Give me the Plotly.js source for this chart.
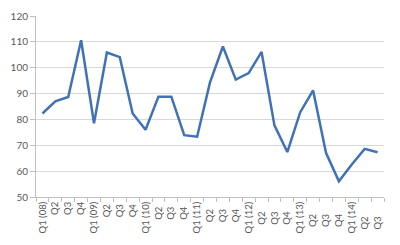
<!DOCTYPE html>
<html>
<head>
<meta charset="utf-8">
<script src="https://cdn.plot.ly/plotly-3.0.1.min.js"></script>
<style>html,body{margin:0;padding:0;background:#fff;}#chart{width:400px;height:245px;}</style>
</head>
<body>
<div id="chart"></div>
<script>
const quarters = ["Q1 (08)","Q2","Q3","Q4","Q1 (09)","Q2 ","Q3 ","Q4 ","Q1 (10)","Q2  ","Q3  ","Q4  ","Q1 (11)","Q2   ","Q3   ","Q4   ","Q1 (12)","Q2    ","Q3    ","Q4    ","Q1 (13)","Q2     ","Q3     ","Q4     ","Q1 (14)","Q2      ","Q3      "];
const values = [82.3, 87.0, 88.7, 110.6, 78.5, 105.9, 104.1, 82.3, 76.0, 88.8, 88.8, 73.9, 73.3, 94.3, 108.2, 95.4, 97.9, 106.1, 77.7, 67.4, 82.8, 91.2, 67.1, 56.1, 62.6, 68.6, 67.3];
const yTicks = [50, 60, 70, 80, 90, 100, 110, 120];

const trace = {
  x: quarters,
  y: values,
  type: 'scatter',
  mode: 'lines',
  line: {color: '#3f72b8', width: 2.5},
  hoverinfo: 'skip'
};

const layout = {
  width: 400, height: 245,
  margin: {l: 36, r: 16, t: 16, b: 48},
  paper_bgcolor: '#ffffff',
  plot_bgcolor: '#ffffff',
  showlegend: false,
  font: {family: 'Lato, "Liberation Sans", sans-serif', color: '#595959'},
  xaxis: {
    type: 'category',
    range: [-0.5, quarters.length - 0.5],
    tickson: 'boundaries',
    ticks: 'outside', ticklen: 4, tickcolor: '#bfbfbf', tickwidth: 1,
    showline: true, linecolor: '#bfbfbf', linewidth: 1,
    showgrid: false, zeroline: false,
    tickangle: -90,
    tickfont: {size: 9.5, color: '#595959'}
  },
  yaxis: {
    range: [50, 120],
    tickvals: yTicks,
    ticktext: yTicks.map(String),
    ticks: 'outside', ticklen: 5, tickcolor: '#bfbfbf', tickwidth: 1,
    showline: true, linecolor: '#bfbfbf', linewidth: 1,
    showgrid: true, gridcolor: '#d9d9d9', gridwidth: 1,
    zeroline: false,
    tickfont: {size: 10, color: '#595959'}
  }
};

Plotly.newPlot('chart', [trace], layout, {staticPlot: true, displayModeBar: false});
</script>
</body>
</html>
